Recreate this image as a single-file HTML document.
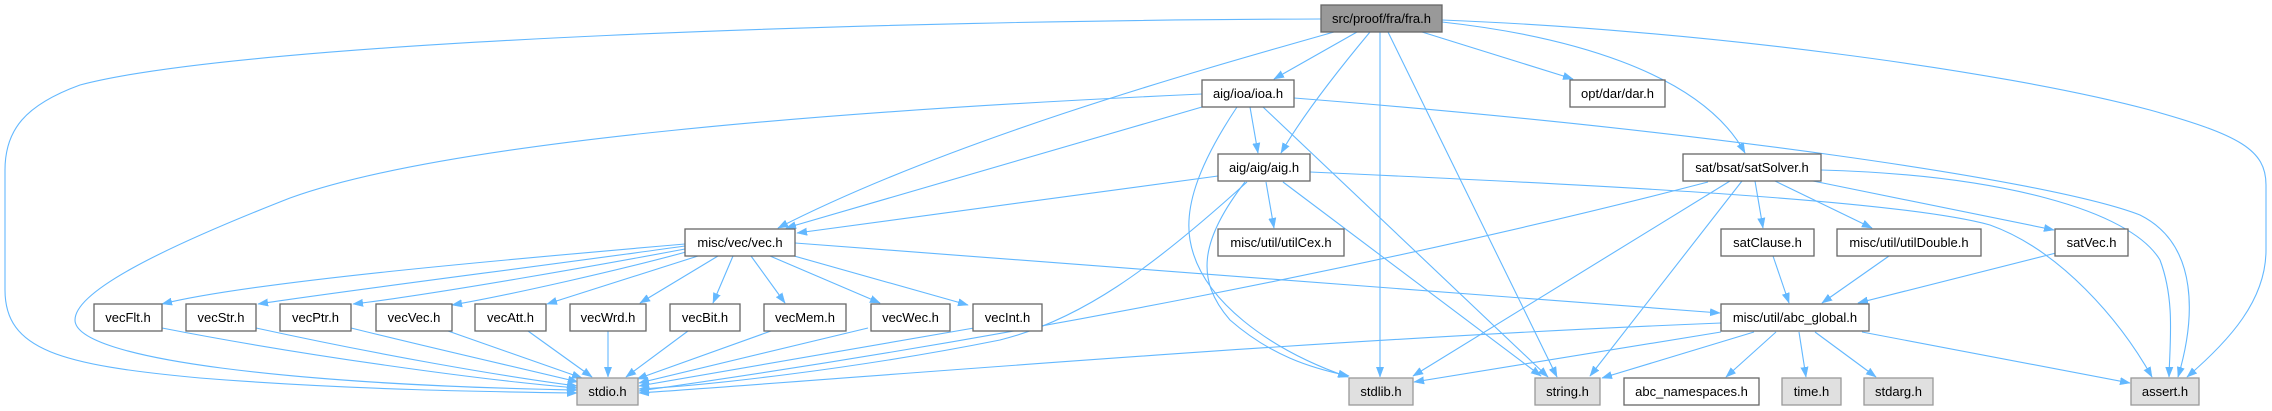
<!DOCTYPE html>
<html><head><meta charset="utf-8"><style>
html,body{margin:0;padding:0;background:#fff;}
svg{display:block;}
text{font-family:"Liberation Sans",Arial,sans-serif;font-size:13px;fill:#000;text-anchor:middle;}
.e{fill:none;stroke:#63b8ff;stroke-width:1.1;marker-end:url(#a);}
.n{fill:#fff;stroke:#666;stroke-width:1.3;}
.s{fill:#e0e0e0;stroke:#999;stroke-width:1.3;}
.r{fill:#999;stroke:#666;stroke-width:1.3;}
</style></head><body>
<svg width="2272" height="411" viewBox="0 0 2272 411" xmlns="http://www.w3.org/2000/svg">
<defs><marker id="a" markerUnits="userSpaceOnUse" markerWidth="11" markerHeight="9" refX="10" refY="4" orient="auto"><path d="M0,0.3 L10,4 L0,7.7 z" fill="#63b8ff" stroke="#63b8ff" stroke-width="0.5"/></marker></defs>

<!-- fra.h edges -->
<path class="e" d="M1321,19 C900,20 250,40 80,85 C25,105 5,130 5,170 L5,290 C5,350 60,365 200,378 C350,390 500,392 577,393"/>
<path class="e" d="M1334,32 C1200,70 950,140 778,228"/>
<path class="e" d="M1357,32 L1274,79"/>
<path class="e" d="M1370,32 C1330,80 1300,120 1281,153"/>
<path class="e" d="M1380,32 L1380,377"/>
<path class="e" d="M1388,32 L1557,377"/>
<path class="e" d="M1422,32 L1573,79"/>
<path class="e" d="M1442,22 C1560,35 1700,70 1745,153"/>
<path class="e" d="M1442,20 C1700,30 2000,70 2150,110 C2240,135 2266,150 2266,185 L2266,250 C2266,300 2230,340 2187,377"/>

<!-- ioa.h edges -->
<path class="e" d="M1202,94 C850,110 450,140 290,198 C170,245 75,290 75,320 C75,360 300,385 577,390"/>
<path class="e" d="M1202,107 L786,228"/>
<path class="e" d="M1250,107 L1258,153"/>
<path class="e" d="M1237,107 C1195,170 1185,210 1190,240 C1200,300 1270,350 1348,377"/>
<path class="e" d="M1263,107 L1548,377"/>
<path class="e" d="M1294,98 C1700,130 2050,180 2140,215 C2200,245 2195,320 2178,377"/>

<!-- aig.h edges -->
<path class="e" d="M1218,176 L797,233"/>
<path class="e" d="M1247,182 C1150,270 1080,320 1000,340 C850,370 700,386 639,389"/>
<path class="e" d="M1245,182 C1200,240 1195,280 1230,320 C1270,355 1310,368 1349,376"/>
<path class="e" d="M1266,182 L1274,228"/>
<path class="e" d="M1283,182 L1541,376"/>
<path class="e" d="M1310,172 C1600,185 1900,200 1990,225 C2060,250 2120,320 2152,377"/>

<!-- satSolver.h edges -->
<path class="e" d="M1708,182 C1400,262 1000,340 639,391"/>
<path class="e" d="M1730,181 L1413,376"/>
<path class="e" d="M1742,181 L1590,376"/>
<path class="e" d="M1755,181 L1763,228"/>
<path class="e" d="M1775,181 L1872,228"/>
<path class="e" d="M1813,181 L2054,230"/>
<path class="e" d="M1821,170 C2000,175 2130,210 2160,260 C2175,300 2170,340 2169,377"/>

<!-- vec.h edges -->
<path class="e" d="M685,244 C500,260 250,282 162,304"/>
<path class="e" d="M685,246 C550,265 350,290 258,304"/>
<path class="e" d="M685,249 C600,265 430,295 353,304"/>
<path class="e" d="M686,252 C620,270 510,295 452,305"/>
<path class="e" d="M698,256 L547,304"/>
<path class="e" d="M718,256 L640,303"/>
<path class="e" d="M733,256 L713,303"/>
<path class="e" d="M751,256 L785,303"/>
<path class="e" d="M770,256 L880,303"/>
<path class="e" d="M787,254 L968,305"/>
<path class="e" d="M795,243 L1720,313"/>

<!-- vecX -> stdio -->
<path class="e" d="M162,328 C300,355 480,380 577,388"/>
<path class="e" d="M256,328 C380,355 500,376 577,386"/>
<path class="e" d="M351,328 C440,350 520,368 578,382"/>
<path class="e" d="M448,331 L582,378"/>
<path class="e" d="M528,331 L592,377"/>
<path class="e" d="M608,331 L608,377"/>
<path class="e" d="M688,331 L626,377"/>
<path class="e" d="M771,331 L637,379"/>
<path class="e" d="M868,328 L639,383"/>
<path class="e" d="M974,328 L639,386"/>

<!-- sat level -->
<path class="e" d="M1773,256 L1789,303"/>
<path class="e" d="M1889,256 L1822,303"/>
<path class="e" d="M2056,253 L1858,303"/>
<path class="e" d="M1721,323 C1300,340 900,375 639,393"/>
<path class="e" d="M1721,332 L1414,382"/>
<path class="e" d="M1754,332 L1602,378"/>
<path class="e" d="M1776,332 L1726,377"/>
<path class="e" d="M1799,332 L1806,377"/>
<path class="e" d="M1815,332 L1876,377"/>
<path class="e" d="M1862,332 L2130,383"/>

<!-- nodes -->
<rect class="r" x="1321" y="5" width="121" height="27"/><text x="1381.5" y="23">src/proof/fra/fra.h</text>
<rect class="n" x="1202" y="80" width="92" height="27"/><text x="1248" y="98">aig/ioa/ioa.h</text>
<rect class="n" x="1570" y="80" width="95" height="27"/><text x="1617.5" y="98">opt/dar/dar.h</text>
<rect class="n" x="1218" y="154" width="92" height="27"/><text x="1264" y="172">aig/aig/aig.h</text>
<rect class="n" x="1683" y="154" width="138" height="27"/><text x="1752" y="172">sat/bsat/satSolver.h</text>
<rect class="n" x="685" y="229" width="110" height="27"/><text x="740" y="247">misc/vec/vec.h</text>
<rect class="n" x="1218" y="229" width="126" height="27"/><text x="1281" y="247">misc/util/utilCex.h</text>
<rect class="n" x="1721" y="229" width="93" height="27"/><text x="1767.5" y="247">satClause.h</text>
<rect class="n" x="1837" y="229" width="144" height="27"/><text x="1909" y="247">misc/util/utilDouble.h</text>
<rect class="n" x="2055" y="229" width="73" height="27"/><text x="2091.5" y="247">satVec.h</text>
<rect class="n" x="94" y="304" width="68" height="27"/><text x="128" y="322">vecFlt.h</text>
<rect class="n" x="186" y="304" width="70" height="27"/><text x="221" y="322">vecStr.h</text>
<rect class="n" x="280" y="304" width="71" height="27"/><text x="315.5" y="322">vecPtr.h</text>
<rect class="n" x="376" y="304" width="76" height="27"/><text x="414" y="322">vecVec.h</text>
<rect class="n" x="475" y="304" width="71" height="27"/><text x="510.5" y="322">vecAtt.h</text>
<rect class="n" x="570" y="304" width="76" height="27"/><text x="608" y="322">vecWrd.h</text>
<rect class="n" x="670" y="304" width="70" height="27"/><text x="705" y="322">vecBit.h</text>
<rect class="n" x="764" y="304" width="82" height="27"/><text x="805" y="322">vecMem.h</text>
<rect class="n" x="871" y="304" width="79" height="27"/><text x="910.5" y="322">vecWec.h</text>
<rect class="n" x="973" y="304" width="69" height="27"/><text x="1007.5" y="322">vecInt.h</text>
<rect class="n" x="1721" y="304" width="148" height="27"/><text x="1795" y="322">misc/util/abc_global.h</text>
<rect class="s" x="577" y="378" width="61" height="27"/><text x="607.5" y="396">stdio.h</text>
<rect class="s" x="1349" y="378" width="64" height="27"/><text x="1381" y="396">stdlib.h</text>
<rect class="s" x="1535" y="378" width="65" height="27"/><text x="1567.5" y="396">string.h</text>
<rect class="n" x="1624" y="378" width="135" height="27"/><text x="1691.5" y="396">abc_namespaces.h</text>
<rect class="s" x="1782" y="378" width="59" height="27"/><text x="1811.5" y="396">time.h</text>
<rect class="s" x="1864" y="378" width="69" height="27"/><text x="1898.5" y="396">stdarg.h</text>
<rect class="s" x="2131" y="378" width="68" height="27"/><text x="2165" y="396">assert.h</text>
</svg>
</body></html>
